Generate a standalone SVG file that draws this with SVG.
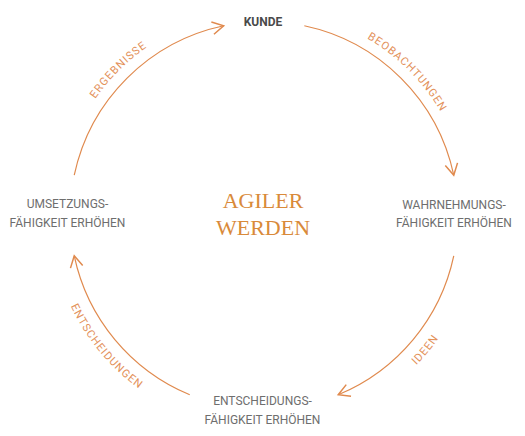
<svg xmlns="http://www.w3.org/2000/svg" width="525" height="436" viewBox="0 0 525 436">
<style>
.arc{fill:none;stroke:#e08a4e;stroke-width:1.2}
.lbl{font-family:Roboto,"Liberation Sans",sans-serif;font-size:11px;letter-spacing:1px;fill:#e3915a}
.node{font-family:Roboto,"Liberation Sans",sans-serif;font-size:12px;fill:#6e6e6e;text-anchor:middle}
.kunde{font-family:Roboto,"Liberation Sans",sans-serif;font-size:12px;font-weight:bold;fill:#4a4a4a;text-anchor:middle}
.center{font-family:"Liberation Serif",serif;font-size:22px;fill:#d98a3a;text-anchor:middle}
</style>
<defs>
<marker id="ah" markerUnits="userSpaceOnUse" markerWidth="20" markerHeight="20" viewBox="-12 -8 14 16" refX="0" refY="0" orient="auto">
<path d="M -9 -5 L 0 0 L -9 5" fill="none" stroke="#e08a4e" stroke-width="1.2"/>
</marker>
<path id="pA" d="M 63.48 172.88 A 205 205 0 0 1 221.38 14.98"/>
<path id="pB" d="M 306.62 14.98 A 205 205 0 0 1 464.52 172.88"/>
<path id="pC" d="M 345.70 412.75 A 213.5 213.5 0 0 0 472.84 259.89"/>
<path id="pD" d="M 55.16 259.89 A 213.5 213.5 0 0 0 182.30 412.75"/>
</defs>
<g id="connectors">
<path class="arc" d="M 74.24 175.17 A 194 194 0 0 1 223.67 25.74" marker-end="url(#ah)"/>
<path class="arc" d="M 304.33 25.74 A 194 194 0 0 1 453.76 175.17" marker-end="url(#ah)"/>
<path class="arc" d="M 453.76 255.83 A 194 194 0 0 1 338.24 394.73" marker-end="url(#ah)"/>
<path class="arc" d="M 189.76 394.73 A 194 194 0 0 1 74.24 255.83" marker-end="url(#ah)"/>
<text class="lbl"><textPath href="#pA" startOffset="50%" text-anchor="middle">ERGEBNISSE</textPath></text>
<text class="lbl"><textPath href="#pB" startOffset="50%" text-anchor="middle">BEOBACHTUNGEN</textPath></text>
<text class="lbl"><textPath href="#pC" startOffset="50%" text-anchor="middle">IDEEN</textPath></text>
<text class="lbl"><textPath href="#pD" startOffset="50%" text-anchor="middle">ENTSCHEIDUNGEN</textPath></text>
</g>
<g id="kunde"><text class="kunde" x="263" y="26">KUNDE</text></g>
<g id="wahrnehmung"><text class="node" x="454" y="209">WAHRNEHMUNGS-</text><text class="node" x="454" y="227">FÄHIGKEIT ERHÖHEN</text></g>
<g id="entscheidung"><text class="node" x="262.5" y="405">ENTSCHEIDUNGS-</text><text class="node" x="262.5" y="423.5">FÄHIGKEIT ERHÖHEN</text></g>
<g id="umsetzung"><text class="node" x="67.5" y="208">UMSETZUNGS-</text><text class="node" x="67.5" y="226.5">FÄHIGKEIT ERHÖHEN</text></g>
<g id="center"><text class="center" x="263" y="208.3">AGILER</text><text class="center" x="263" y="235">WERDEN</text></g>
</svg>
